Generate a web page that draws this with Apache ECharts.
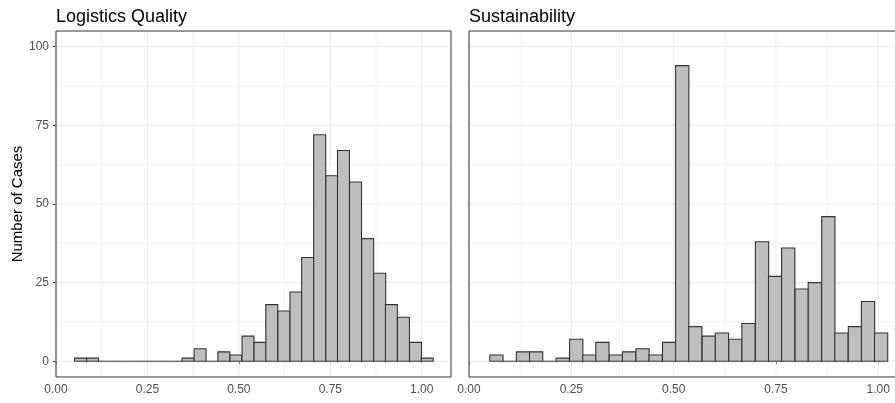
<!DOCTYPE html>
<html><head><meta charset="utf-8">
<script src="https://cdn.jsdelivr.net/npm/echarts@6/dist/echarts.min.js"></script>
<style>html,body{margin:0;padding:0;background:#fff}#c{width:895px;height:403px}</style>
</head><body><div id="c"></div>
<script>
// ---- data ----
const panelTitles = ['Logistics Quality', 'Sustainability'];
const yAxisTitle = 'Number of Cases';

const binCentersLQ = [0.067,0.100,0.132,0.165,0.198,0.231,0.263,0.296,0.329,0.361,
  0.394,0.427,0.459,0.492,0.525,0.558,0.590,0.623,0.656,0.688,
  0.721,0.754,0.786,0.819,0.852,0.885,0.917,0.950,0.983,1.015];
const countsLQ = [1,1,0,0,0,0,0,0,0,1,
  4,0,3,2,8,6,18,16,22,33,
  72,59,67,57,39,28,18,14,6,1];
const binWidthLQ = 0.0327;

const binCentersS = [0.067,0.099,0.132,0.164,0.197,0.229,0.262,0.294,0.326,0.359,
  0.391,0.424,0.456,0.489,0.521,0.553,0.586,0.618,0.651,0.683,
  0.716,0.748,0.780,0.813,0.845,0.878,0.910,0.943,0.975,1.007];
const countsS = [2,0,3,3,0,1,7,2,6,2,
  3,4,2,6,94,11,8,9,7,12,
  38,27,36,23,25,46,9,11,19,9];
const binWidthS = 0.0324;

const xTicks = [0, 0.25, 0.5, 0.75, 1.0];
const xMinorGrid = [0.125, 0.375, 0.625, 0.875];
const yTicks = [0, 25, 50, 75, 100];
const yMinorGrid = [12.5, 37.5, 62.5, 87.5];

// ---- chart ----
const FONT = 'Liberation Sans, Arial, sans-serif';
const chart = echarts.init(document.getElementById('c'), null, {renderer: 'canvas'});

function vLineSeries(values, color, gi, w) {
  return {
    type: 'custom', xAxisIndex: gi, yAxisIndex: gi, silent: true, z: 1,
    data: values.map(v => [v, 0]),
    renderItem: function (params, api) {
      const p = api.coord([api.value(0), 0]);
      const cs = params.coordSys;
      return {type: 'line', shape: {x1: p[0], y1: cs.y, x2: p[0], y2: cs.y + cs.height},
        style: {stroke: color, lineWidth: w}};
    }
  };
}
function hLineSeries(values, color, gi, w) {
  return {
    type: 'custom', xAxisIndex: gi, yAxisIndex: gi, silent: true, z: 1,
    data: values.map(v => [0, v]),
    renderItem: function (params, api) {
      const p = api.coord([0, api.value(1)]);
      const cs = params.coordSys;
      return {type: 'line', shape: {x1: cs.x, y1: p[1], x2: cs.x + cs.width, y2: p[1]},
        style: {stroke: color, lineWidth: w}};
    }
  };
}
function histSeries(centers, counts, bw, gi) {
  return {
    type: 'custom', xAxisIndex: gi, yAxisIndex: gi, silent: true, z: 3,
    data: centers.map((c, i) => [c, counts[i]]),
    encode: {x: 0, y: 1},
    renderItem: function (params, api) {
      const c = api.value(0), n = api.value(1);
      const p0 = api.coord([c - bw / 2, n]);
      const p1 = api.coord([c + bw / 2, 0]);
      return {type: 'rect',
        shape: {x: p0[0], y: p0[1], width: p1[0] - p0[0], height: p1[1] - p0[1]},
        style: {fill: '#BEBEBE', stroke: '#333333', lineWidth: 1.1}};
    }
  };
}

const gridBase = {top: 31, height: 346, show: true, z: 1.5, borderColor: '#333333', borderWidth: 1,
  backgroundColor: 'transparent', containLabel: false, outerBoundsMode: 'none'};

function xAxisFor(gi) {
  return {
    type: 'value', gridIndex: gi, min: 0, max: 1.08, interval: 0.25,
    axisLine: {show: false}, splitLine: {show: false},
    axisTick: {show: true, length: 3, customValues: xTicks, lineStyle: {color: '#333333', width: 1}},
    axisLabel: {customValues: xTicks, margin: 7, color: '#4D4D4D', fontSize: 12, fontFamily: FONT,
      formatter: v => v.toFixed(2)}
  };
}

const option = {
  backgroundColor: '#ffffff',
  animation: false,
  title: [
    {text: panelTitles[0], left: 56, top: 8, padding: 0, textStyle: {fontSize: 18, fontWeight: 'normal', color: '#000', fontFamily: FONT}},
    {text: panelTitles[1], left: 469, top: 8, padding: 0, textStyle: {fontSize: 18, fontWeight: 'normal', color: '#000', fontFamily: FONT}}
  ],
  grid: [
    Object.assign({left: 56, width: 395}, gridBase),
    Object.assign({left: 469, width: 442}, gridBase)
  ],
  xAxis: [xAxisFor(0), xAxisFor(1)],
  yAxis: [
    {type: 'value', gridIndex: 0, min: -5, max: 105,
      name: yAxisTitle, nameLocation: 'middle', nameGap: 29, nameRotate: 90,
      nameTextStyle: {fontSize: 15, color: '#000', fontFamily: FONT},
      axisLine: {show: false}, splitLine: {show: false},
      axisTick: {show: true, length: 3, customValues: yTicks, lineStyle: {color: '#333333', width: 1}},
      axisLabel: {customValues: yTicks, margin: 7, color: '#4D4D4D', fontSize: 12, fontFamily: FONT}},
    {type: 'value', gridIndex: 1, min: -5, max: 105,
      axisLine: {show: false}, splitLine: {show: false},
      axisTick: {show: false}, axisLabel: {show: false}}
  ],
  series: [
    vLineSeries(xTicks, '#EBEBEB', 0, 1.1), vLineSeries(xMinorGrid, '#F2F2F2', 0, 1),
    hLineSeries(yTicks, '#EBEBEB', 0, 1.1), hLineSeries(yMinorGrid, '#F2F2F2', 0, 1),
    vLineSeries(xTicks, '#EBEBEB', 1, 1.1), vLineSeries(xMinorGrid, '#F2F2F2', 1, 1),
    hLineSeries(yTicks, '#EBEBEB', 1, 1.1), hLineSeries(yMinorGrid, '#F2F2F2', 1, 1),
    histSeries(binCentersLQ, countsLQ, binWidthLQ, 0),
    histSeries(binCentersS, countsS, binWidthS, 1)
  ]
};
chart.setOption(option);
</script>
</body></html>
